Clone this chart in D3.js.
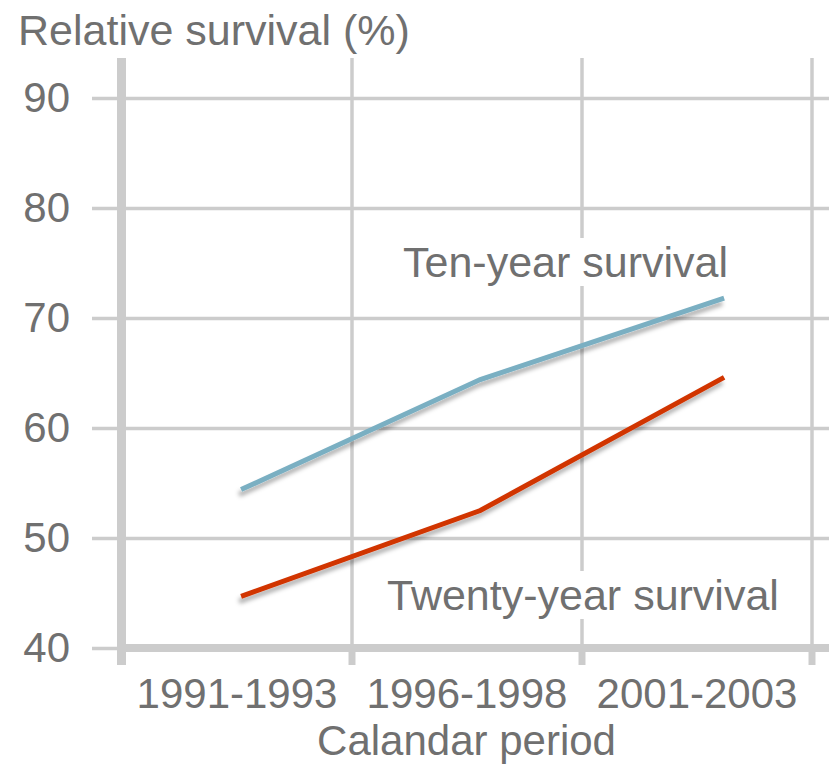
<!DOCTYPE html>
<html>
<head>
<meta charset="utf-8">
<script src="https://cdn.jsdelivr.net/npm/d3@7"></script>
<style>
  html, body { margin: 0; padding: 0; background: #fff; }
  svg { display: block; font-family: "Liberation Sans", Arial, sans-serif; }
</style>
</head>
<body>
<svg id="chart" width="829" height="764"></svg>
<script>
// values
var periods = ["1991-1993", "1996-1998", "2001-2003"];
var periodMid = [1992.5, 1997.5, 2002.5];
var gridYears = [1990, 1995, 2000, 2005];
var pointYears = [1992.6, 1997.8, 2003.1];
var tenYear = [54.4, 64.4, 71.8];
var twentyYear = [44.7, 52.5, 64.6];
var yTicks = [40, 50, 60, 70, 80, 90];

var W = 829, H = 764;
var gridLeft = 92, gridTop = 58;
var textColor = "#707070", gridColor = "#cccccc";

var svg = d3.select("#chart");

var x = d3.scaleLinear().domain([1990, 2005]).range([121.5, 811.5]);
var y = d3.scaleLinear().domain([40, 90]).range([648, 98]);

var defs = svg.append("defs");
defs.append("filter").attr("id", "shadow")
    .attr("x", "-10%").attr("y", "-20%").attr("width", "120%").attr("height", "140%")
  .append("feDropShadow")
    .attr("dx", -2).attr("dy", 5).attr("stdDeviation", 2.2)
    .attr("flood-color", "#000").attr("flood-opacity", 0.32);

// horizontal grid + y labels
var yAxis = svg.append("g")
    .attr("transform", "translate(" + gridLeft + ",0)")
    .call(d3.axisLeft(y).tickValues(yTicks).tickSize(-(W - gridLeft)).tickPadding(22));
yAxis.select(".domain").remove();
yAxis.selectAll(".tick line").attr("stroke", gridColor).attr("stroke-width", 3.5);
yAxis.selectAll(".tick text")
    .attr("fill", textColor).attr("font-size", 42).attr("font-family", "Liberation Sans, Arial, sans-serif");

// vertical grid
var xGrid = svg.append("g")
    .attr("transform", "translate(0," + y(40) + ")")
    .call(d3.axisBottom(x).tickValues(gridYears).tickSize(-(y(40) - gridTop)).tickFormat(""));
xGrid.select(".domain").remove();
xGrid.selectAll(".tick line").attr("stroke", gridColor).attr("stroke-width", 3.5);

// thick ticks under the axis
var xTicks = svg.append("g")
    .attr("transform", "translate(0," + y(40) + ")")
    .call(d3.axisBottom(x).tickValues(gridYears).tickSize(17).tickFormat(""));
xTicks.select(".domain").remove();
xTicks.selectAll(".tick line").attr("stroke", gridColor).attr("stroke-width", 7);

// axis lines
svg.append("line")
    .attr("x1", x(1990)).attr("x2", W)
    .attr("y1", y(40)).attr("y2", y(40))
    .attr("stroke", gridColor).attr("stroke-width", 8);
svg.append("line")
    .attr("x1", x(1990)).attr("x2", x(1990))
    .attr("y1", gridTop).attr("y2", y(40) + 17)
    .attr("stroke", gridColor).attr("stroke-width", 9);

// period labels
var xLabels = svg.append("g")
    .attr("transform", "translate(0,708)")
    .call(d3.axisBottom(x).tickValues(periodMid).tickSize(0).tickPadding(0)
      .tickFormat(function (d, i) { return periods[i]; }));
xLabels.select(".domain").remove();
xLabels.selectAll(".tick text")
    .attr("dy", 0).attr("y", 0)
    .attr("fill", textColor).attr("font-size", 42).attr("font-family", "Liberation Sans, Arial, sans-serif");

svg.append("text")
    .attr("x", (x(1990) + x(2005)) / 2).attr("y", 755)
    .attr("text-anchor", "middle")
    .attr("fill", textColor).attr("font-size", 42)
    .text("Calandar period");

svg.append("text")
    .attr("x", 18).attr("y", 45)
    .attr("fill", textColor).attr("font-size", 43)
    .text("Relative survival (%)");

// series
var line = d3.line()
    .x(function (d, i) { return x(pointYears[i]); })
    .y(function (d) { return y(d); });

svg.append("path").datum(tenYear)
    .attr("d", line).attr("fill", "none")
    .attr("stroke", "#7aafc2").attr("stroke-width", 5)
    .attr("filter", "url(#shadow)");

svg.append("path").datum(twentyYear)
    .attr("d", line).attr("fill", "none")
    .attr("stroke", "#d13400").attr("stroke-width", 5)
    .attr("filter", "url(#shadow)");

// series labels on white boxes
function seriesLabel(txt, px, py) {
  var g = svg.append("g");
  var t = g.append("text")
      .attr("x", px).attr("y", py)
      .attr("fill", textColor).attr("font-size", 43)
      .text(txt);
  var b = t.node().getBBox();
  g.insert("rect", "text")
      .attr("x", b.x - 3).attr("y", b.y)
      .attr("width", b.width + 6).attr("height", b.height)
      .attr("fill", "#fff");
}
seriesLabel("Ten-year survival", 403, 277);
seriesLabel("Twenty-year survival", 387, 610);
</script>
</body>
</html>
